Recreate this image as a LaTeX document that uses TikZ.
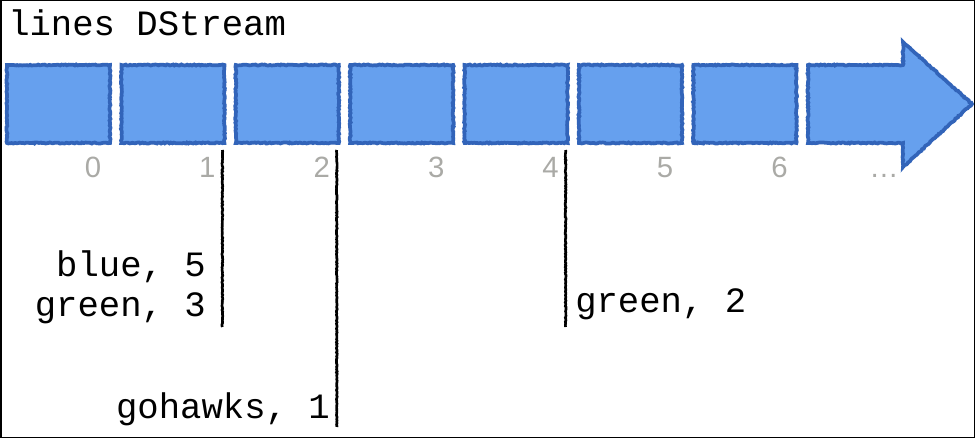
\documentclass[tikz,border=0pt]{standalone}
\usepackage{fontspec}
\setmonofont{Liberation Mono}
\setsansfont{Liberation Sans}
\usetikzlibrary{calc, decorations.pathmorphing}

\definecolor{batchfill}{RGB}{102,160,238}
\definecolor{batchedge}{RGB}{50,100,185}
\definecolor{tickgray}{RGB}{170,170,166}

\tikzset{
  batch/.style={fill=batchfill, draw=batchedge, line width=2.8pt,
    decorate, decoration={random steps, segment length=1.2pt, amplitude=0.4pt}},
  ticklabel/.style={text=tickgray, inner sep=0pt, font=\sffamily\fontsize{22}{26}\selectfont},
  wordcount/.style={inner sep=0pt, font=\ttfamily\fontsize{26.7}{30}\selectfont},
  marker/.style={line width=2pt, decorate,
    decoration={random steps, segment length=1pt, amplitude=0.3pt}}
}

\begin{document}
\begin{tikzpicture}[x=0.75pt, y=-0.75pt]
    % frame
    \useasboundingbox (0,0) rectangle (975,438);
    \draw[line width=1.5pt] (0.5,0.5) rectangle (974.5,437.5);

    % title
    \node[wordcount, anchor=base west] (title) at (8,36) {lines DStream};

    % batches 0..6
    \foreach \i in {0,...,6} {
        \pgfmathsetmacro{\xl}{7+114.4*\i}
        \path[batch] (\xl,65) rectangle ++(103,78);
        \coordinate (b\i) at (\xl+103,143);
        \node[ticklabel, anchor=base] (t\i) at (\xl+86,178) {\i};
    }

    % arrow for the rest of the stream
    \path[batch] (808,65) -- (903,65) -- (903,42) -- (972,104)
        -- (903,167) -- (903,143) -- (808,143) -- cycle;
    \node[ticklabel, anchor=base] (tdots) at (884,178) {…};

    % markers under batches 1, 2 and 4
    \coordinate (m1) at ($(b1)+(-2,7)$);
    \coordinate (m2) at ($(b2)+(-2,7)$);
    \coordinate (m4) at ($(b4)+(-2,7)$);
    \draw[marker] (m1) -- ++(0,177) coordinate (e1);
    \draw[marker] (m2) -- ++(0,277) coordinate (e2);
    \draw[marker] (m4) -- ++(0,177) coordinate (e4);

    % counts
    \node[wordcount, anchor=base east] (blue) at (206,277) {blue, 5};
    \node[wordcount, anchor=base east] (green) at (206,317) {green, 3};
    \node[wordcount, anchor=base east] (gohawks) at (330,418) {gohawks, 1};
    \node[wordcount, anchor=base west] (greentwo) at (575,313) {green, 2};
\end{tikzpicture}
\end{document}
